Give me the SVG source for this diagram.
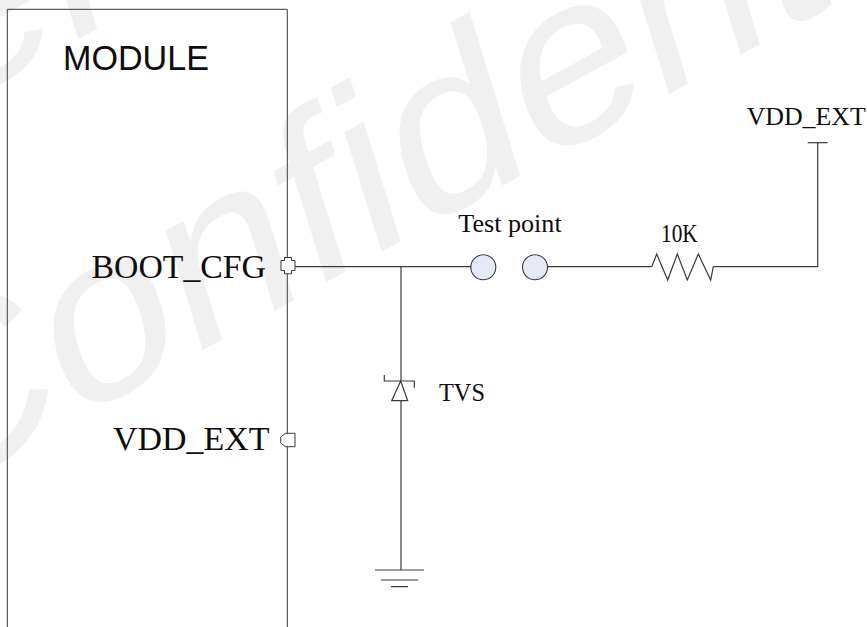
<svg xmlns="http://www.w3.org/2000/svg" width="867" height="627" viewBox="0 0 867 627">
<style>
.w{font-family:"Liberation Sans",Arial,sans-serif;fill:#f0f0f0;font-size:230px}
.s{font-family:"Liberation Serif","Times New Roman",serif;fill:#0d0d0d}
.l{fill:none;stroke:#3a3a3a;stroke-width:1.2}
.p{fill:#e4eaf6;stroke:#3a3a3a;stroke-width:1.1}
.o{fill:#fff;stroke:#3a3a3a;stroke-width:1}
</style>
<rect width="867" height="627" fill="#fff"/>
<g id="watermark">
<text class="w" transform="matrix(.935 -.513 .304 .983 -87 509)">Confidential</text>
<text class="w" transform="matrix(.935 -.513 .304 .983 -678 454)">Confidential</text>
</g>
<g id="connectors">
<path class="l" d="M295 266.700H471M401 266.700V381M401 400.700V570M547.500 266.700H651.700M713.300 266.700H817.700V142.700"/>
</g>
<g id="module">
<path class="l" style="stroke-width:1" d="M7.300 627V9.300H287.300V627"/>
<text x="63" y="70" font-family="Liberation Sans,Arial,sans-serif" font-size="34.500" fill="#0d0d0d" textLength="146" lengthAdjust="spacingAndGlyphs">MODULE</text>
</g>
<g id="pin-boot-cfg">
<text class="s" x="91.500" y="278.300" font-size="34" textLength="174.500" lengthAdjust="spacingAndGlyphs">BOOT_CFG</text>
<path class="o" d="M284.500 257.500H291.500V260.500H295V270.500H291.500V273.800H284.500V270.500H281V260.500H284.500Z"/>
</g>
<g id="pin-vdd-ext">
<text class="s" x="113" y="450" font-size="34" textLength="156.500" lengthAdjust="spacingAndGlyphs">VDD_EXT</text>
<path class="o" d="M295 433.300H285.500L280.700 437V443L285.500 446.700H295Z"/>
</g>
<g id="test-point">
<text class="s" x="458.300" y="231.700" font-size="25.600" textLength="103.400" lengthAdjust="spacingAndGlyphs">Test point</text>
<circle class="p" cx="483.300" cy="267.300" r="12.500"/>
<circle class="p" cx="535" cy="267.300" r="12.500"/>
</g>
<g id="resistor">
<text class="s" x="661" y="241.700" font-size="26" textLength="36.700" lengthAdjust="spacingAndGlyphs">10K</text>
<path class="l" d="M651.700 266.700L656.700 254L667.700 280L677.300 254L687.300 280L698.300 254L710.700 280L713.300 266.700"/>
</g>
<g id="tvs">
<path class="l" d="M384.300 375V381H414.300V387.700"/>
<path class="l" d="M400.700 381L391.700 400.700H407.700Z"/>
<text class="s" x="439" y="400.700" font-size="26" textLength="46" lengthAdjust="spacingAndGlyphs">TVS</text>
</g>
<g id="ground">
<path class="l" d="M375 570H424M381 580H418M391 586.700H408"/>
</g>
<g id="vdd-ext-rail">
<path class="l" d="M807.700 142.700H827.700"/>
<text class="s" x="746.700" y="125" font-size="25.800" textLength="119" lengthAdjust="spacingAndGlyphs">VDD_EXT</text>
</g>
</svg>
